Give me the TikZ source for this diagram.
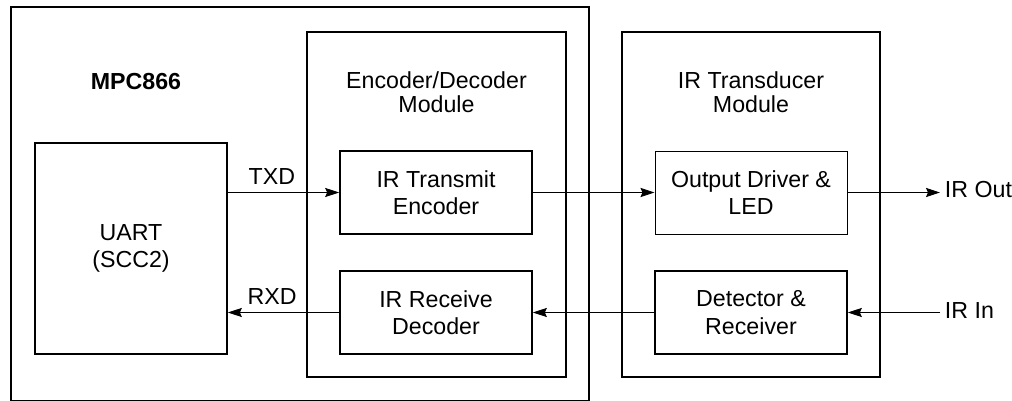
\documentclass[tikz,border=0pt]{standalone}
\usepackage{fontspec}
\setmainfont{Liberation Sans}
\usepackage{tikz}
\usetikzlibrary{arrows.meta, positioning, calc}

\begin{document}
\begin{tikzpicture}[
  chipbox/.style  = {draw, line width=1.2pt, inner sep=0pt},
  blockbox/.style = {draw, line width=1.2pt, minimum width=4.8cm,
                     minimum height=2.075cm, inner sep=0pt, align=center,
                     font=\fontsize{16.5}{19.4}\selectfont},
  title/.style    = {align=center, font=\fontsize{16.5}{16.7}\selectfont},
  sig/.style      = {font=\fontsize{16.5}{19.4}\selectfont},
  arr/.style      = {->, line width=0.6pt, >={Stealth[length=10pt, width=6.5pt, inset=1.5pt]}},
]
\useasboundingbox (0,0) rectangle (25.3,-10.025);

%% ── MPC866 ────────────────────────────────────────────────────────────────
\node[chipbox, minimum width=14.45cm, minimum height=9.85cm] (mpc) at (7.5, -5.1) {};
\node[font=\fontsize{16.5}{19.4}\selectfont\bfseries] (mpclbl) at (3.4, -2.05) {MPC866};

\node[blockbox, minimum height=5.275cm] (uart) at (3.275, -6.2125) {UART\\(SCC2)};

%% ── ENCODER/DECODER ───────────────────────────────────────────────────────
\node[chipbox, minimum width=6.475cm, minimum height=8.625cm] (encmod) at (10.9125, -5.1125) {};
\node[title] (enclbl) at (10.9125, -2.3) {Encoder/Decoder\\Module};

\node[blockbox] (txenc) at (10.9, -4.8125) {IR Transmit\\Encoder};
\node[blockbox] (rxdec) at (10.9, -7.8125) {IR Receive\\Decoder};

%% ── IR TRANSDUCER ─────────────────────────────────────────────────────────
\node[chipbox, minimum width=6.45cm, minimum height=8.625cm] (irmod) at (18.775, -5.1125) {};
\node[title] (irlbl) at (18.775, -2.3) {IR Transducer\\Module};

\node[blockbox, line width=0.7pt] (outdrv) at (18.775, -4.8125) {Output Driver \&\\LED};
\node[blockbox] (detect) at (18.775, -7.8125) {Detector \&\\Receiver};

%% ── SEÑALES ───────────────────────────────────────────────────────────────
\node[sig, anchor=base east] (txd) at (7.5, -4.625) {TXD};
\node[sig, anchor=base east] (rxd) at (7.54, -7.625) {RXD};
\node[sig, anchor=base west] (irout) at (23.5, -4.95) {IR Out};
\node[sig, anchor=base west] (irin)  at (23.5, -7.975) {IR In};

\draw[arr] (uart.east |- txenc) -- (txenc.west);
\draw[arr] (rxdec.west) -- (uart.east |- rxdec);
\draw[arr] (txenc.east) -- (outdrv.west);
\draw[arr] (detect.west) -- (rxdec.east);
\draw[arr] (outdrv.east) -- (outdrv.east -| irout.west);
\draw[arr] (detect.east -| irin.west) -- (detect.east);

\end{tikzpicture}
\end{document}
